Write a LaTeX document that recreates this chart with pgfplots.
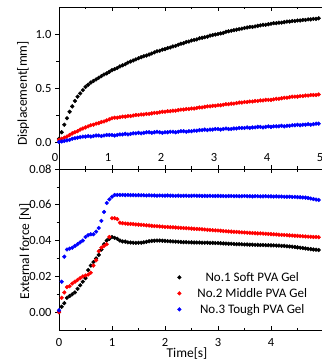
\documentclass[border=0pt]{standalone}
\usepackage{pgfplots}
\usepackage{pgfplotstable}
\usepackage{fontspec}
\setmainfont{Carlito}
\pgfplotsset{compat=1.18}

\pgfplotstableread{
t k r b
0.00 0.03 0.02 0.00
0.05 0.09 0.03 0.005
0.10 0.16 0.04 0.01
0.15 0.22 0.05 0.015
0.20 0.28 0.065 0.02
0.25 0.33 0.08 0.03
0.30 0.38 0.09 0.035
0.35 0.42 0.10 0.04
0.40 0.45 0.115 0.045
0.45 0.48 0.125 0.05
0.50 0.51 0.135 0.05
0.55 0.53 0.145 0.055
0.60 0.55 0.155 0.05
0.65 0.565 0.16 0.055
0.70 0.58 0.17 0.06
0.75 0.595 0.175 0.06
0.80 0.61 0.185 0.055
0.85 0.625 0.19 0.06
0.90 0.635 0.20 0.065
0.95 0.65 0.21 0.065
1.00 0.665 0.22 0.065
1.05 0.675 0.225 0.06
1.10 0.685 0.225 0.065
1.15 0.70 0.23 0.07
1.20 0.71 0.235 0.07
1.25 0.72 0.235 0.075
1.30 0.735 0.24 0.07
1.35 0.745 0.24 0.075
1.40 0.755 0.245 0.08
1.45 0.765 0.25 0.08
1.50 0.775 0.25 0.085
1.55 0.785 0.255 0.08
1.60 0.795 0.255 0.085
1.65 0.80 0.26 0.09
1.70 0.81 0.26 0.09
1.75 0.82 0.265 0.085
1.80 0.83 0.27 0.09
1.85 0.84 0.27 0.095
1.90 0.845 0.275 0.09
1.95 0.855 0.28 0.085
2.00 0.86 0.28 0.09
2.05 0.87 0.285 0.09
2.10 0.875 0.285 0.095
2.15 0.885 0.29 0.095
2.20 0.89 0.29 0.09
2.25 0.90 0.295 0.095
2.30 0.91 0.30 0.10
2.35 0.915 0.30 0.10
2.40 0.925 0.305 0.095
2.45 0.93 0.305 0.10
2.50 0.94 0.31 0.10
2.55 0.945 0.31 0.105
2.60 0.95 0.315 0.105
2.65 0.96 0.32 0.11
2.70 0.965 0.32 0.11
2.75 0.97 0.325 0.115
2.80 0.975 0.33 0.11
2.85 0.985 0.33 0.115
2.90 0.99 0.335 0.115
2.95 0.995 0.335 0.12
3.00 1.00 0.34 0.12
3.05 1.005 0.34 0.115
3.10 1.01 0.345 0.12
3.15 1.02 0.35 0.125
3.20 1.025 0.35 0.12
3.25 1.03 0.355 0.12
3.30 1.035 0.355 0.125
3.35 1.04 0.36 0.125
3.40 1.045 0.365 0.13
3.45 1.05 0.365 0.13
3.50 1.055 0.37 0.13
3.55 1.06 0.37 0.135
3.60 1.065 0.375 0.13
3.65 1.065 0.375 0.135
3.70 1.07 0.38 0.135
3.75 1.075 0.38 0.14
3.80 1.08 0.385 0.14
3.85 1.085 0.385 0.135
3.90 1.085 0.39 0.14
3.95 1.09 0.39 0.145
4.00 1.095 0.39 0.14
4.05 1.10 0.395 0.145
4.10 1.10 0.40 0.145
4.15 1.105 0.40 0.145
4.20 1.105 0.405 0.15
4.25 1.11 0.41 0.145
4.30 1.115 0.41 0.15
4.35 1.115 0.415 0.15
4.40 1.12 0.42 0.155
4.45 1.12 0.42 0.155
4.50 1.125 0.42 0.16
4.55 1.125 0.425 0.155
4.60 1.13 0.425 0.16
4.65 1.13 0.43 0.16
4.70 1.135 0.43 0.165
4.75 1.135 0.435 0.16
4.80 1.14 0.435 0.165
4.85 1.14 0.435 0.17
4.90 1.145 0.44 0.17
}\disptable

\pgfplotstableread{
t k r b
0.00 0.000 0.000 0.001
0.05 0.003 0.008 0.017
0.10 0.005 0.011 0.031
0.15 0.008 0.014 0.035
0.20 0.009 0.0145 0.0355
0.25 0.010 0.016 0.036
0.30 0.011 0.017 0.037
0.35 0.013 0.018 0.038
0.40 0.015 0.019 0.039
0.45 0.017 0.020 0.040
0.50 0.019 0.0205 0.042
0.55 0.0235 0.021 0.043
0.60 0.026 0.022 0.0435
0.65 0.028 0.026 0.0435
0.70 0.030 0.029 0.045
0.75 0.032 0.034 0.047
0.80 0.035 0.036 0.051
0.85 0.038 0.037 0.056
0.90 0.040 0.038 0.061
0.95 0.041 0.042 0.063
1.00 0.042 0.0525 0.0645
1.05 0.0415 0.0525 0.0655
1.10 0.041 0.052 0.0655
1.15 0.040 0.050 0.0655
1.20 0.0395 0.0497 0.0655
1.25 0.0394 0.0495 0.0654
1.30 0.039 0.0494 0.0655
1.35 0.0389 0.0493 0.0654
1.40 0.0388 0.0492 0.0654
1.45 0.0387 0.049 0.0653
1.50 0.0388 0.0489 0.0654
1.55 0.0388 0.0488 0.0653
1.60 0.039 0.0487 0.0653
1.65 0.0393 0.0485 0.0652
1.70 0.0396 0.0484 0.0653
1.75 0.0398 0.0482 0.0652
1.80 0.0399 0.0481 0.0652
1.85 0.040 0.048 0.0651
1.90 0.040 0.0479 0.0652
1.95 0.0399 0.0478 0.0651
2.00 0.0398 0.0476 0.0651
2.05 0.0397 0.0476 0.0652
2.10 0.0396 0.0475 0.0651
2.15 0.0395 0.0474 0.0651
2.20 0.0394 0.0473 0.065
2.25 0.0393 0.0472 0.0651
2.30 0.0392 0.0471 0.065
2.35 0.0391 0.047 0.065
2.40 0.0391 0.0469 0.0651
2.45 0.039 0.0468 0.065
2.50 0.039 0.0467 0.065
2.55 0.0389 0.0466 0.0651
2.60 0.0389 0.0465 0.065
2.65 0.0389 0.0464 0.065
2.70 0.0388 0.0463 0.0649
2.75 0.0388 0.0462 0.065
2.80 0.0388 0.046 0.0649
2.85 0.0387 0.0459 0.065
2.90 0.0387 0.0458 0.0649
2.95 0.0386 0.0457 0.0649
3.00 0.0386 0.0456 0.065
3.05 0.0385 0.0455 0.0649
3.10 0.0384 0.0453 0.0649
3.15 0.0383 0.0452 0.0648
3.20 0.0382 0.0451 0.0649
3.25 0.0382 0.045 0.0649
3.30 0.0381 0.0449 0.0648
3.35 0.038 0.0448 0.0649
3.40 0.038 0.0447 0.0648
3.45 0.0379 0.0446 0.0648
3.50 0.0378 0.0445 0.0649
3.55 0.0378 0.0444 0.0648
3.60 0.0377 0.0443 0.0648
3.65 0.0377 0.0442 0.0647
3.70 0.0376 0.0441 0.0648
3.75 0.0376 0.044 0.0648
3.80 0.0375 0.044 0.0647
3.85 0.0375 0.0439 0.0647
3.90 0.0374 0.0438 0.0648
3.95 0.0374 0.0437 0.0647
4.00 0.0373 0.0436 0.0647
4.05 0.0373 0.0435 0.0646
4.10 0.0372 0.0434 0.0647
4.15 0.0372 0.0433 0.0646
4.20 0.037 0.0432 0.0646
4.25 0.037 0.0431 0.0645
4.30 0.0368 0.043 0.0645
4.35 0.0367 0.0429 0.0645
4.40 0.0366 0.0428 0.0644
4.45 0.0364 0.0427 0.0644
4.50 0.0362 0.0426 0.0643
4.55 0.036 0.0425 0.0642
4.60 0.0358 0.0424 0.0641
4.65 0.0356 0.0423 0.064
4.70 0.0354 0.0422 0.0638
4.75 0.0352 0.0421 0.0635
4.80 0.035 0.042 0.0632
4.85 0.0349 0.042 0.0629
4.90 0.0347 0.0419 0.0627
}\forcetable

\pgfplotsset{
  myaxis/.style={
    scale only axis, width=265pt,
    xmin=0, xmax=5, xtick={0,1,2,3,4,5},
    minor x tick num=1, minor y tick num=1,
    tick align=inside, ytick pos=left,
    ytick align=outside,
    major tick length=4pt, minor tick length=2.5pt,
    axis line style={line width=0.8pt},
    tick style={line width=0.7pt, black},
    /pgf/number format/assume math mode=true,
    tick label style={font=\fontsize{12.5}{14}\selectfont},
    scaled y ticks=false,
    clip=false,
    every axis plot/.append style={only marks, mark=*, mark size=1.9pt},
  }
}

\begin{document}
\begin{tikzpicture}
\useasboundingbox (0,0) rectangle (321pt,361pt);
% top
\begin{axis}[myaxis, at={(59pt,192pt)}, anchor=south west, height=162pt,
  ymin=-0.25, ymax=1.25, ytick={0,0.5,1},
  yticklabel style={/pgf/number format/.cd, fixed, fixed zerofill, precision=1},
  xticklabel style={anchor=base, yshift=7.5pt, xshift=-4pt},
  ylabel={Displacement[mm]},
  every axis y label/.style={at={(axis description cs:-0.136,0.466)}, rotate=90, anchor=center, font=\fontsize{13.5}{15}\selectfont},
]
\addplot[black, mark options={fill=black}] table[x=t,y=k] {\disptable};
\addplot[red, mark options={fill=red}] table[x=t,y=r] {\disptable};
\addplot[blue, mark options={fill=blue}] table[x=t,y=b] {\disptable};
\end{axis}
% bottom
\begin{axis}[myaxis, at={(59pt,31pt)}, anchor=south west, height=161pt,
  ymin=-0.01, ymax=0.08, ytick={0,0.02,0.04,0.06,0.08},
  yticklabel style={/pgf/number format/.cd, fixed, fixed zerofill, precision=2},
  xticklabel style={anchor=base, yshift=-16pt},
  xticklabels={0,1,2,3,4,},
  ylabel={External force [N]},
  every axis y label/.style={at={(axis description cs:-0.128,0.488)}, rotate=90, anchor=center, font=\fontsize{13.5}{15}\selectfont},
  xlabel={Time[s]},
  every axis x label/.style={at={(axis description cs:0.483,-0.149)}, anchor=center, font=\fontsize{13.5}{15}\selectfont},
  legend image code/.code={\draw[mark repeat=1,#1] plot coordinates {(8pt,0pt)}; \path[draw=none,fill=none] (0pt,0pt) -- (24pt,0pt);},
  legend style={draw=none, fill=none, at={(rel axis cs:0.412,0.386)}, anchor=north west,
    font=\fontsize{13}{15}\selectfont, row sep=1.5pt},
]
\addplot[black, mark options={fill=black}] table[x=t,y=k] {\forcetable};
\addlegendentry{No.1 Soft PVA Gel}
\addplot[red, mark options={fill=red}] table[x=t,y=r] {\forcetable};
\addlegendentry{No.2 Middle PVA Gel}
\addplot[blue, mark options={fill=blue}] table[x=t,y=b] {\forcetable};
\addlegendentry{No.3 Tough PVA Gel}
\end{axis}
\end{tikzpicture}
\end{document}
